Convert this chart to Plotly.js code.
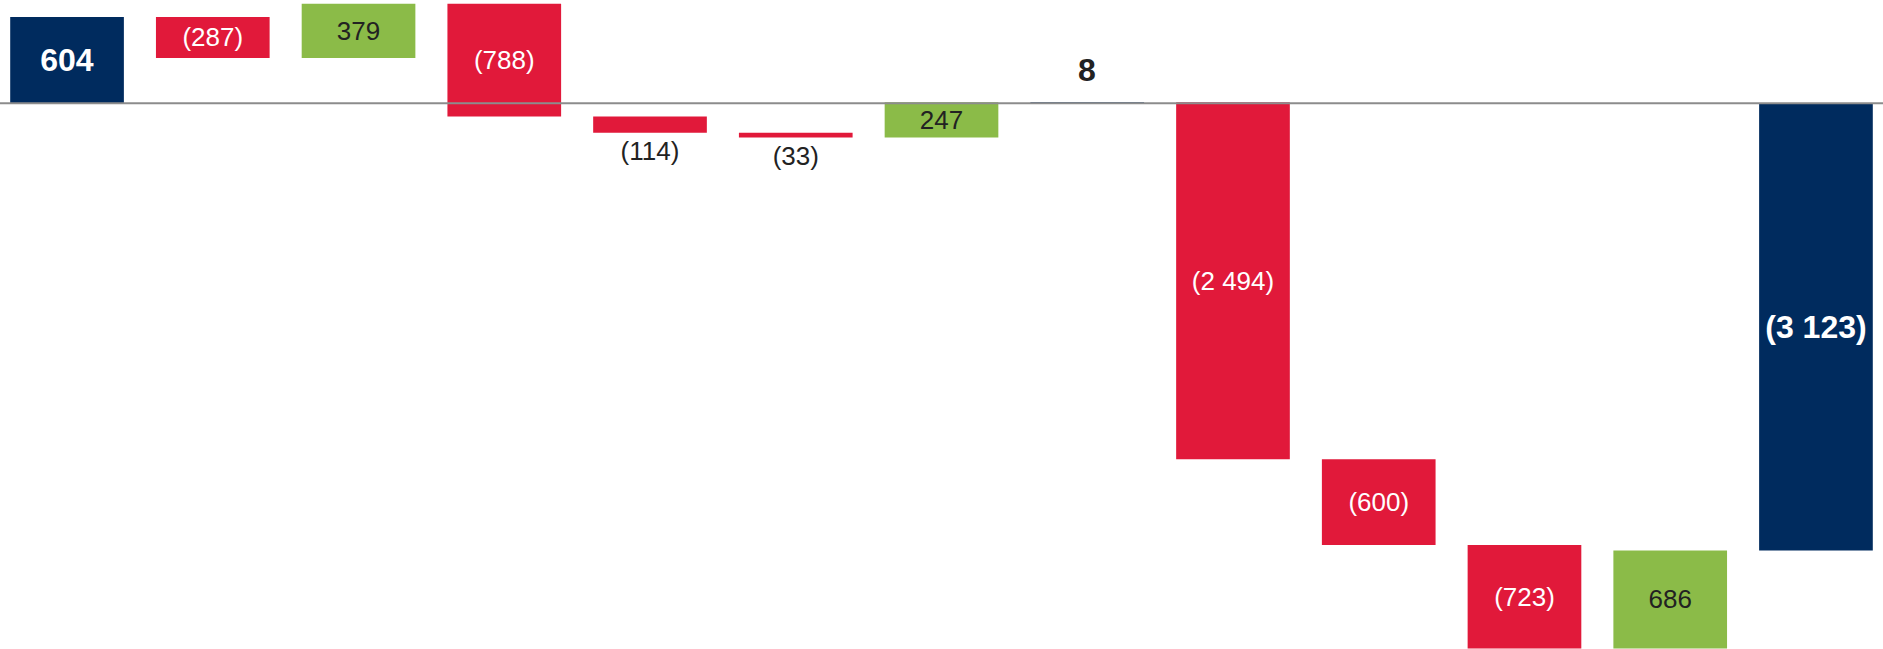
<!DOCTYPE html>
<html>
<head>
<meta charset="utf-8">
<script src="https://cdn.plot.ly/plotly-3.0.1.min.js"></script>
<style>
  html, body { margin: 0; padding: 0; background: #ffffff; }
  #chart { width: 1883px; height: 649px; }
</style>
</head>
<body>
<div id="chart"></div>
<script>
// Bridge steps: opening position, movements, subtotal, further movements, closing position
const steps = [1, 2, 3, 4, 5, 6, 7, 8, 9, 10, 11, 12, 13];
const measures = ['absolute', 'relative', 'relative', 'relative', 'relative', 'relative', 'relative',
                  'total', 'relative', 'relative', 'relative', 'relative', 'total'];
const amounts = [604, -287, 379, -788, -114, -33, 247, 0, -2494, -600, -723, 686, 0];
// 'above' labels sit higher over the bar than the trace's own outside text
const labelPositions = ['inside', 'inside', 'inside', 'inside', 'outside', 'outside', 'inside',
                        'above', 'inside', 'inside', 'inside', 'inside', 'inside'];

const NAVY = '#002b5e';
const RED = '#e1193a';
const GREEN = '#8bbb48';
const DARK = '#222222';
const FONT = 'Liberation Sans, Arial, sans-serif';

// Number format: space as thousands separator, negatives in parentheses
function fmt(v) {
  const s = Math.abs(v).toString().replace(/\B(?=(\d{3})+(?!\d))/g, ' ');
  return v < 0 ? '(' + s + ')' : s;
}

// Running level gives the value shown on each total bar
let level = 0;
const shown = amounts.map((v, i) => {
  if (measures[i] === 'absolute') { level = v; return v; }
  if (measures[i] === 'total') { return level; }
  level += v;
  return v;
});

const labels = shown.map((v, i) => measures[i] === 'relative' ? fmt(v) : '<b>' + fmt(v) + '</b>');
const labelSizes = measures.map(m => m === 'relative' ? 26 : 32);
const labelColors = shown.map((v, i) => {
  if (labelPositions[i] !== 'inside') return DARK;
  if (measures[i] !== 'relative') return '#ffffff';
  return v > 0 ? DARK : '#ffffff';
});

const trace = {
  type: 'waterfall',
  x: steps,
  y: amounts,
  measure: measures,
  text: labels,
  textinfo: 'text',
  textposition: labelPositions.map(p => p === 'above' ? 'none' : p),
  textangle: 0,
  constraintext: 'none',
  insidetextanchor: 'middle',
  textfont: { family: FONT, size: labelSizes, color: labelColors },
  increasing: { marker: { color: GREEN } },
  decreasing: { marker: { color: RED } },
  totals: { marker: { color: NAVY } },
  connector: { visible: false },
  width: 0.78,
  cliponaxis: false,
  hoverinfo: 'skip'
};

// Raised labels, anchored at the top of their bar
const raised = steps
  .map((s, i) => ({ s, i }))
  .filter(o => labelPositions[o.i] === 'above')
  .map(o => ({
    x: o.s, y: shown[o.i], xref: 'x', yref: 'y',
    text: labels[o.i], showarrow: false,
    xanchor: 'center', yanchor: 'middle', yshift: 32,
    font: { family: FONT, size: labelSizes[o.i], color: labelColors[o.i] }
  }));

const layout = {
  width: 1883,
  height: 649,
  margin: { l: 0, r: 0, t: 0, b: 0 },
  paper_bgcolor: '#ffffff',
  plot_bgcolor: '#ffffff',
  showlegend: false,
  xaxis: { range: [0.54, 13.46], visible: false, fixedrange: true },
  yaxis: { range: [-3812, 722], visible: false, zeroline: false, showgrid: false, fixedrange: true },
  annotations: raised,
  shapes: [{
    type: 'line', xref: 'paper', x0: 0, x1: 1, yref: 'y', y0: 0, y1: 0,
    line: { color: '#8c8c8c', width: 2 }, layer: 'above'
  }]
};

Plotly.newPlot('chart', [trace], layout, { staticPlot: true, displayModeBar: false });
</script>
</body>
</html>
